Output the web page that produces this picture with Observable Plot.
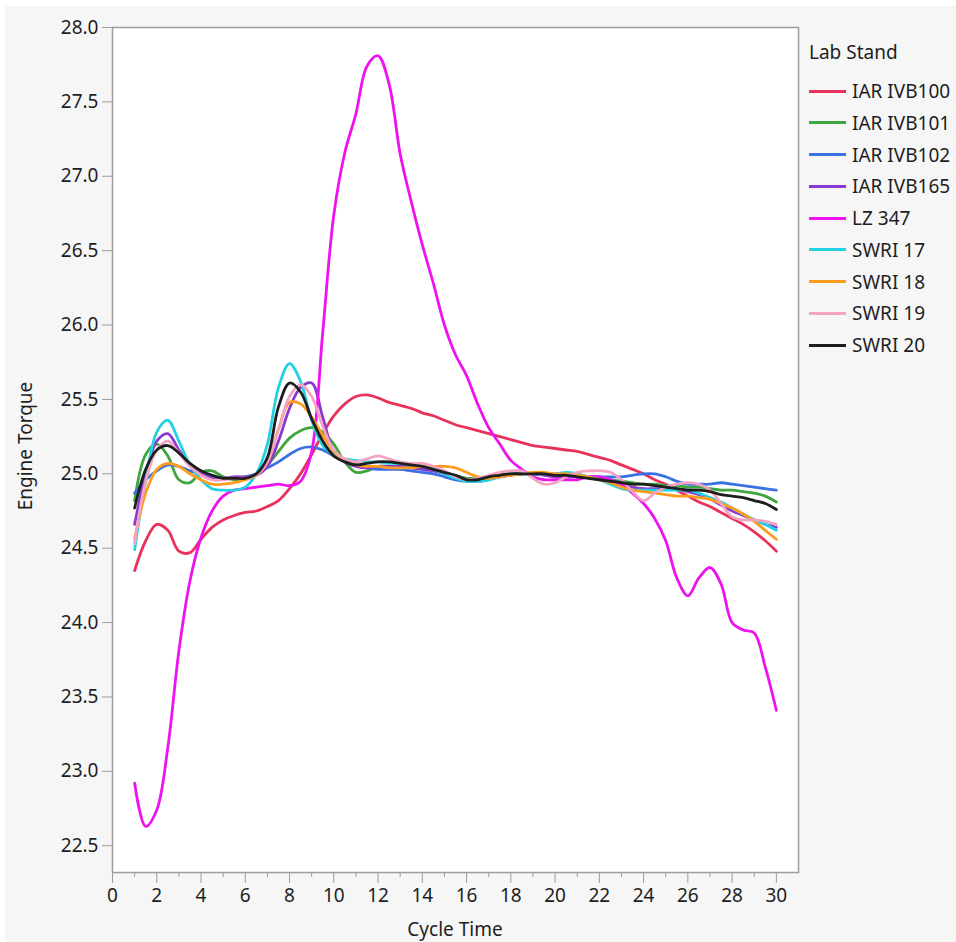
<!DOCTYPE html>
<html>
<head>
<meta charset="utf-8">
<script src="https://cdn.jsdelivr.net/npm/d3@7"></script>
<script src="https://cdn.jsdelivr.net/npm/@observablehq/plot@0.6"></script>
<style>
  body { margin: 0; background: #ffffff; font-family: "Noto Sans", sans-serif; }
  #panel { position: absolute; left: 5px; top: 6px; width: 951px; height: 936px; background: #f6f6f6; overflow: hidden; }
  #chart { position: absolute; left: 0; top: 0; }
  .axis-title { position: absolute; font-size: 19px; color: #1e1e1e; white-space: nowrap; line-height: 1; }
  #legend { position: absolute; left: 0; top: 0; color: #1e1e1e; font-size: 19px; }
  .lg-title, .lg-row { position: absolute; white-space: nowrap; line-height: 24px; height: 24px; }
  .lg-swatch { position: absolute; top: 10.5px; width: 37px; height: 3px; }
  .lg-text { position: absolute; left: 43px; top: 0; }
</style>
</head>
<body>
<div id="panel">
  <div id="chart"></div>
  <div id="legend"></div>
  <div class="axis-title" id="xtitle">Cycle Time</div>
  <div class="axis-title" id="ytitle">Engine Torque</div>
</div>
<script>
// Sampling points along the cycle (half-step resolution)
const cycle = [
  1, 1.5, 2, 2.5, 3, 3.5, 4, 4.5, 5, 5.5,
  6, 6.5, 7, 7.5, 8, 8.5, 9, 9.5, 10, 10.5,
  11, 11.5, 12, 12.5, 13, 13.5, 14, 14.5, 15, 15.5,
  16, 16.5, 17, 17.5, 18, 18.5, 19, 19.5, 20, 20.5,
  21, 21.5, 22, 22.5, 23, 23.5, 24, 24.5, 25, 25.5,
  26, 26.5, 27, 27.5, 28, 28.5, 29, 29.5, 30
];

// Smoothed engine torque per lab stand
const iarIvb100 = [
  24.35, 24.55, 24.66, 24.62, 24.48, 24.47, 24.56, 24.64, 24.69, 24.72,
  24.74, 24.75, 24.78, 24.82, 24.90, 25.00, 25.13, 25.27, 25.39, 25.47,
  25.52, 25.53, 25.51, 25.48, 25.46, 25.44, 25.41, 25.39, 25.36, 25.33,
  25.31, 25.29, 25.27, 25.25, 25.23, 25.21, 25.19, 25.18, 25.17, 25.16,
  25.15, 25.13, 25.11, 25.09, 25.06, 25.03, 25.00, 24.96, 24.93, 24.89,
  24.85, 24.81, 24.78, 24.74, 24.70, 24.66, 24.61, 24.55, 24.48
];
const iarIvb101 = [
  24.82, 25.13, 25.20, 25.12, 24.96, 24.94, 25.01, 25.02, 24.98, 24.96,
  24.97, 24.99, 25.06, 25.15, 25.24, 25.29, 25.31, 25.28, 25.20, 25.08,
  25.01, 25.02, 25.05, 25.05, 25.05, 25.05, 25.04, 25.03, 25.01, 24.99,
  24.97, 24.97, 24.98, 24.99, 25.00, 25.00, 25.00, 25.00, 24.99, 24.99,
  24.99, 24.98, 24.97, 24.96, 24.95, 24.94, 24.93, 24.93, 24.92, 24.92,
  24.91, 24.91, 24.90, 24.89, 24.89, 24.88, 24.87, 24.85, 24.81
];
const iarIvb102 = [
  24.87, 24.96, 25.02, 25.06, 25.05, 25.02, 25.00, 24.98, 24.97, 24.97,
  24.98, 25.00, 25.04, 25.08, 25.13, 25.17, 25.18, 25.16, 25.12, 25.08,
  25.06, 25.04, 25.03, 25.03, 25.03, 25.02, 25.01, 25.00, 24.98, 24.96,
  24.95, 24.95, 24.96, 24.98, 24.99, 25.00, 25.00, 25.00, 25.00, 25.00,
  24.99, 24.98, 24.98, 24.98, 24.98, 24.99, 25.00, 25.00, 24.98, 24.95,
  24.93, 24.93, 24.93, 24.94, 24.93, 24.92, 24.91, 24.90, 24.89
];
const iarIvb165 = [
  24.66, 25.00, 25.22, 25.27, 25.16, 25.06, 25.00, 24.97, 24.97, 24.98,
  24.98, 24.99, 25.05, 25.22, 25.44, 25.58, 25.61, 25.38, 25.15, 25.08,
  25.05, 25.04, 25.05, 25.05, 25.05, 25.04, 25.03, 25.02, 25.00, 24.98,
  24.96, 24.96, 24.97, 24.98, 24.99, 25.00, 25.00, 24.99, 24.98, 24.98,
  24.98, 24.98, 24.97, 24.95, 24.93, 24.91, 24.90, 24.90, 24.90, 24.90,
  24.88, 24.86, 24.83, 24.79, 24.75, 24.72, 24.69, 24.66, 24.64
];
const lz347 = [
  22.92, 22.63, 22.74, 23.16, 23.81, 24.28, 24.57, 24.75, 24.85, 24.89,
  24.90, 24.91, 24.92, 24.93, 24.92, 24.95, 25.15, 25.95, 26.74, 27.16,
  27.42, 27.74, 27.81, 27.62, 27.15, 26.83, 26.54, 26.28, 26.00, 25.80,
  25.66, 25.47, 25.31, 25.20, 25.09, 25.03, 24.98, 24.96, 24.96, 24.96,
  24.96, 24.98, 24.98, 24.96, 24.93, 24.87, 24.80, 24.70, 24.55, 24.30,
  24.18, 24.30, 24.37, 24.26, 24.00, 23.95, 23.93, 23.70, 23.41
];
const swri17 = [
  24.49, 24.95, 25.28, 25.36, 25.22, 25.06, 24.96, 24.90, 24.89, 24.89,
  24.91, 25.00, 25.20, 25.58, 25.74, 25.62, 25.36, 25.19, 25.13, 25.10,
  25.09, 25.08, 25.08, 25.07, 25.07, 25.06, 25.05, 25.03, 25.00, 24.97,
  24.95, 24.95, 24.96, 24.98, 25.00, 25.00, 25.00, 25.00, 25.00, 25.01,
  25.00, 24.98, 24.96, 24.93, 24.90, 24.89, 24.89, 24.89, 24.89, 24.89,
  24.89, 24.87, 24.84, 24.81, 24.77, 24.73, 24.69, 24.66, 24.62
];
const swri18 = [
  24.56, 24.87, 25.03, 25.07, 25.05, 25.00, 24.96, 24.93, 24.93, 24.94,
  24.96, 24.99, 25.08, 25.30, 25.48, 25.47, 25.38, 25.26, 25.15, 25.09,
  25.06, 25.05, 25.05, 25.04, 25.04, 25.04, 25.05, 25.05, 25.05, 25.04,
  25.01, 24.98, 24.97, 24.98, 24.99, 25.00, 25.01, 25.01, 25.00, 25.00,
  24.99, 24.98, 24.96, 24.94, 24.91, 24.89, 24.88, 24.87, 24.86, 24.85,
  24.85, 24.84, 24.83, 24.80, 24.77, 24.73, 24.68, 24.62, 24.56
];
const swri19 = [
  24.53, 24.95, 25.16, 25.22, 25.14, 25.05, 24.99, 24.96, 24.96, 24.97,
  24.97, 24.99, 25.08, 25.30, 25.52, 25.60, 25.52, 25.32, 25.16, 25.10,
  25.08, 25.10, 25.12, 25.10, 25.08, 25.07, 25.07, 25.05, 25.02, 24.98,
  24.96, 24.97, 24.99, 25.01, 25.02, 25.02, 24.97, 24.93, 24.94, 24.98,
  25.01, 25.02, 25.02, 25.01, 24.96, 24.88, 24.82, 24.87, 24.91, 24.93,
  24.94, 24.93, 24.89, 24.80, 24.71, 24.69, 24.69, 24.68, 24.66
];
const swri20 = [
  24.77, 25.03, 25.16, 25.19, 25.14, 25.07, 25.02, 24.99, 24.97, 24.97,
  24.97, 25.00, 25.11, 25.45, 25.61, 25.55, 25.37, 25.22, 25.12, 25.08,
  25.06, 25.07, 25.08, 25.08, 25.07, 25.06, 25.05, 25.03, 25.01, 24.99,
  24.96, 24.96, 24.98, 24.99, 25.00, 25.00, 25.00, 25.00, 24.99, 24.99,
  24.98, 24.97, 24.96, 24.95, 24.94, 24.93, 24.93, 24.92, 24.91, 24.90,
  24.89, 24.89, 24.88, 24.86, 24.85, 24.84, 24.82, 24.80, 24.76
];

const stands = ["IAR IVB100", "IAR IVB101", "IAR IVB102", "IAR IVB165", "LZ 347",
                "SWRI 17", "SWRI 18", "SWRI 19", "SWRI 20"];
const standSeries = [iarIvb100, iarIvb101, iarIvb102, iarIvb165, lz347,
                     swri17, swri18, swri19, swri20];
const standColors = ["#e8325c", "#3fa53f", "#3a72e4", "#8a3ad2", "#ee12ee",
                     "#22d2e2", "#ff9c1e", "#f5a3c3", "#1e1e1e"];

// Axis ticks
const xTicks = [0, 2, 4, 6, 8, 10, 12, 14, 16, 18, 20, 22, 24, 26, 28, 30];
const xMinorTicks = [1, 3, 5, 7, 9, 11, 13, 15, 17, 19, 21, 23, 25, 27, 29];
const yTicks = [22.5, 23.0, 23.5, 24.0, 24.5, 25.0, 25.5, 26.0, 26.5, 27.0, 27.5, 28.0];

// Long-format rows for the line mark
const rows = [];
stands.forEach((stand, i) => {
  standSeries[i].forEach((v, j) => rows.push({stand, cycle: cycle[j], torque: v}));
});

const W = 951, H = 936;
const mL = 107, mT = 21, mR = 158, mB = 70;
const axisGrey = "#9c9c9c";

const chart = Plot.plot({
  width: W,
  height: H,
  marginLeft: mL,
  marginTop: mT,
  marginRight: mR,
  marginBottom: mB,
  style: {background: "transparent", fontFamily: "'Noto Sans', sans-serif", color: "#1e1e1e"},
  x: {domain: [0, 31]},
  y: {domain: [22.32, 28.0]},
  color: {domain: stands, range: standColors},
  marks: [
    Plot.frame({fill: "white"}),
    Plot.axisY(yTicks, {
      anchor: "left", tickSize: 10, tickPadding: 4, stroke: axisGrey,
      tickFormat: d3.format(".1f"), fontSize: 19, label: null
    }),
    Plot.axisX(xTicks, {
      anchor: "bottom", tickSize: 11, tickPadding: 5, stroke: axisGrey,
      tickFormat: d3.format("d"), fontSize: 19, label: null
    }),
    Plot.axisX(xMinorTicks, {
      anchor: "bottom", tickSize: 5, stroke: axisGrey, tickFormat: () => "", label: null
    }),
    Plot.line(rows, {
      x: "cycle", y: "torque", z: "stand", stroke: "stand",
      curve: "catmull-rom", strokeWidth: 2.8, strokeLinejoin: "round", strokeLinecap: "round"
    }),
    Plot.frame({stroke: axisGrey, strokeWidth: 1.5})
  ]
});
document.getElementById("chart").appendChild(chart);

// Axis titles
const xTitle = document.getElementById("xtitle");
xTitle.style.left = (mL + (W - mL - mR) / 2) + "px";
xTitle.style.top = "914px";
xTitle.style.transform = "translateX(-50%)";
const yTitle = document.getElementById("ytitle");
yTitle.style.left = "20px";
yTitle.style.top = (mT + (H - mT - mB) / 2 - 4) + "px";
yTitle.style.transform = "translate(-50%, -50%) rotate(-90deg)";

// Legend
const legend = document.getElementById("legend");
const title = document.createElement("div");
title.className = "lg-title";
title.textContent = "Lab Stand";
title.style.left = "804px";
title.style.top = (46 - 12) + "px";
legend.appendChild(title);
stands.forEach((stand, i) => {
  const row = document.createElement("div");
  row.className = "lg-row";
  row.style.left = "804px";
  row.style.top = (85 + i * 31.75 - 12) + "px";
  const sw = document.createElement("div");
  sw.className = "lg-swatch";
  sw.style.background = standColors[i];
  const tx = document.createElement("div");
  tx.className = "lg-text";
  tx.textContent = stand;
  row.appendChild(sw);
  row.appendChild(tx);
  legend.appendChild(row);
});
</script>
</body>
</html>
